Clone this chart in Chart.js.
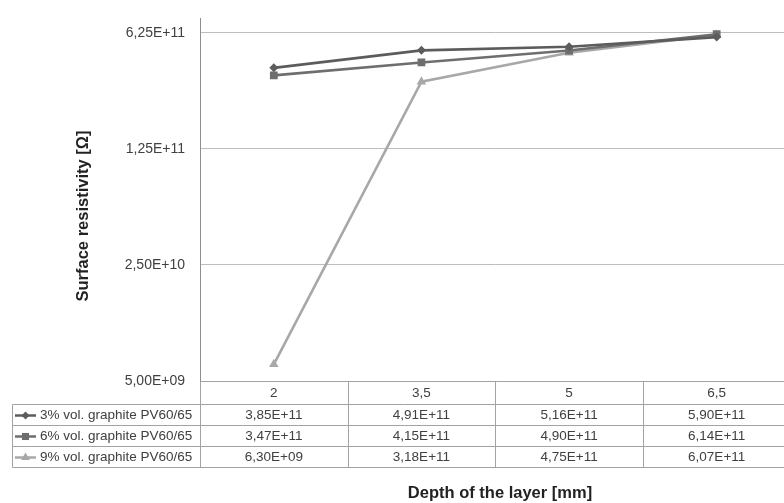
<!DOCTYPE html>
<html>
<head>
<meta charset="utf-8">
<script src="https://cdn.jsdelivr.net/npm/chart.js@4"></script>
<style>
html,body{margin:0;padding:0;background:#fff;overflow:hidden;width:784px;height:503px;}
#wrap{position:absolute;left:0;top:0;width:796px;height:503px;}
</style>
</head>
<body>
<div id="wrap"><canvas id="c"></canvas></div>
<script>
const categories = ['2', '3,5', '5', '6,5'];
const seriesNames = ['3% vol. graphite PV60/65', '6% vol. graphite PV60/65', '9% vol. graphite PV60/65'];
const series3 = [3.85e11, 4.91e11, 5.16e11, 5.90e11];
const series6 = [3.47e11, 4.15e11, 4.90e11, 6.14e11];
const series9 = [6.30e9, 3.18e11, 4.75e11, 6.07e11];
const tableText = [
  ['3,85E+11', '4,91E+11', '5,16E+11', '5,90E+11'],
  ['3,47E+11', '4,15E+11', '4,90E+11', '6,14E+11'],
  ['6,30E+09', '3,18E+11', '4,75E+11', '6,07E+11']
];
const yTickValues = [5e9, 2.5e10, 1.25e11, 6.25e11];
const yTickLabels = ['5,00E+09', '2,50E+10', '1,25E+11', '6,25E+11'];
const colors = ['#5c5c5c', '#6e6e6e', '#a8a8a8'];
const styles = ['rectRot', 'rect', 'triangle'];
const radii = [4.5, 5.5, 5.5];
const legendRadii = [4, 5, 5];
const FONT = '"Liberation Sans", Arial, sans-serif';

const tablePlugin = {
  id: 'tablePlugin',
  afterDraw(chart) {
    const ctx = chart.ctx;
    const xs = chart.scales.x;
    const area = chart.chartArea;
    const n = categories.length;
    const centers = categories.map((_, i) => xs.getPixelForValue(i));
    const step = centers[1] - centers[0];
    const bounds = [];
    for (let i = 0; i <= n; i++) bounds.push(Math.round(centers[0] - step / 2 + i * step) + 0.5);
    const top = Math.round(area.bottom) + 0.5;
    const headerBottom = 404.5;
    const rowH = 21;
    const tableLeft = 12.5;
    const bottom = headerBottom + rowH * 3;
    ctx.save();
    ctx.strokeStyle = '#a3a3a3';
    ctx.lineWidth = 1;
    ctx.beginPath();
    ctx.moveTo(bounds[0], top); ctx.lineTo(bounds[n] + 5, top);
    for (let r = 0; r <= 3; r++) {
      const y = headerBottom + r * rowH;
      ctx.moveTo(tableLeft, y); ctx.lineTo(bounds[n] + 5, y);
    }
    for (let i = 0; i <= n; i++) {
      ctx.moveTo(bounds[i], top); ctx.lineTo(bounds[i], bottom);
    }
    ctx.moveTo(tableLeft, headerBottom); ctx.lineTo(tableLeft, bottom);
    ctx.stroke();

    ctx.font = '13.5px ' + FONT;
    ctx.textBaseline = 'middle';
    for (let r = 0; r < 3; r++) {
      const yc = headerBottom + r * rowH + rowH / 2 + 0.5;
      ctx.textAlign = 'center';
      ctx.fillStyle = '#404040';
      for (let i = 0; i < n; i++) ctx.fillText(tableText[r][i], centers[i], yc);
      ctx.strokeStyle = colors[r];
      ctx.lineWidth = 2.5;
      ctx.beginPath(); ctx.moveTo(15, yc); ctx.lineTo(36, yc); ctx.stroke();
      ctx.fillStyle = colors[r];
      Chart.helpers.drawPoint(ctx, {pointStyle: styles[r], radius: legendRadii[r], rotation: 0, borderWidth: 0}, 25.5, yc);
      ctx.fillStyle = '#404040';
      ctx.textAlign = 'left';
      ctx.fillText(seriesNames[r], 40, yc);
    }
    ctx.font = 'bold 16.5px ' + FONT;
    ctx.fillStyle = '#222';
    ctx.textAlign = 'center';
    ctx.fillText('Depth of the layer [mm]', 500, 493);
    ctx.save();
    ctx.translate(83, 216);
    ctx.rotate(-Math.PI / 2);
    ctx.fillText('Surface resistivity [\u03A9]', 0, 0);
    ctx.restore();
    ctx.restore();
  }
};

const datasets = [series3, series6, series9].map((d, i) => ({
  label: seriesNames[i],
  data: d,
  borderColor: colors[i],
  backgroundColor: colors[i],
  pointBackgroundColor: colors[i],
  pointBorderColor: colors[i],
  pointStyle: styles[i],
  pointRadius: radii[i],
  pointBorderWidth: 0,
  borderWidth: 2.6,
  tension: 0
}));

new Chart(document.getElementById('c'), {
  type: 'line',
  data: { labels: categories, datasets },
  options: {
    responsive: true,
    maintainAspectRatio: false,
    animation: false,
    devicePixelRatio: 1,
    layout: { padding: { top: 18, left: 0, right: 0, bottom: 0 } },
    plugins: { legend: { display: false }, tooltip: { enabled: false } },
    scales: {
      x: {
        type: 'category',
        offset: true,
        grid: { display: false, drawTicks: false },
        border: { display: false },
        ticks: { color: '#404040', font: { family: FONT, size: 13.5 }, padding: 4, maxRotation: 0 },
        afterFit(s) { s.height = 122; s.paddingLeft = 0; s.paddingRight = 0; }
      },
      y: {
        type: 'logarithmic',
        min: 5e9,
        max: 7.69e11,
        afterBuildTicks(s) { s.ticks = yTickValues.map(v => ({ value: v })); },
        ticks: {
          color: '#404040',
          font: { family: FONT, size: 14 },
          padding: 15,
          callback(v) { const k = yTickValues.indexOf(v); return k >= 0 ? yTickLabels[k] : ''; }
        },
        grid: { color: '#bdbdbd', lineWidth: 1, drawTicks: false },
        border: { display: true, color: '#8e8e8e', width: 1 },
        afterFit(s) { s.width = 200; s.paddingTop = 0; s.paddingBottom = 0; }
      }
    }
  },
  plugins: [tablePlugin]
});
</script>
</body>
</html>
